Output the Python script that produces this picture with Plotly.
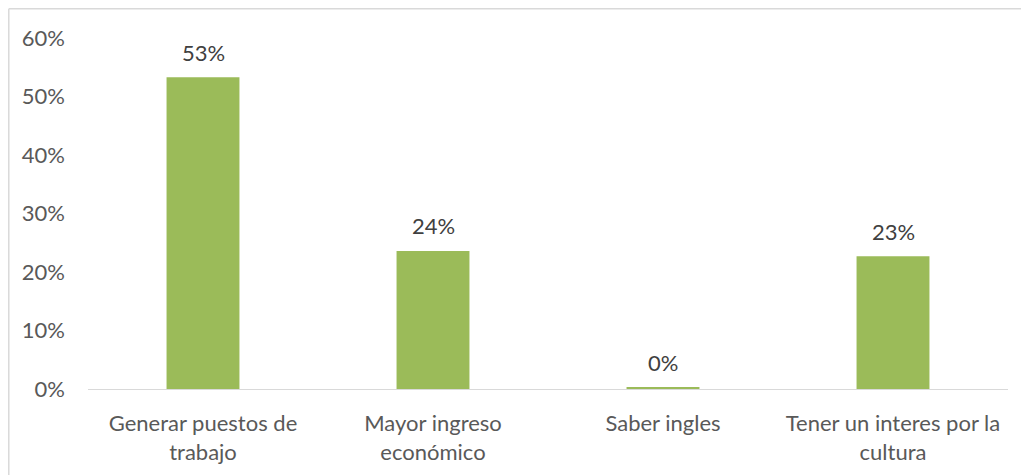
import plotly.graph_objects as go

categories = ["Generar puestos de<br>trabajo", "Mayor ingreso<br>económico", "Saber ingles", "Tener un interes por la<br>cultura"]
values = [0.533, 0.236, 0.003, 0.227]
labels = ["53%", "24%", "0%", "23%"]
tick_vals = [0, 0.1, 0.2, 0.3, 0.4, 0.5, 0.6]

fig = go.Figure(go.Bar(
    x=categories, y=values,
    marker=dict(color="#9bbb59", line=dict(width=0)),
    width=0.317,
))

for c, v, t in zip(categories, values, labels):
    fig.add_annotation(x=c, y=v, text=t, showarrow=False, yanchor="middle", yshift=25,
                       font=dict(size=22, color="#404040"))

fig.update_layout(
    width=1021, height=467,
    margin=dict(l=80, r=21, t=30, b=86),
    paper_bgcolor="white", plot_bgcolor="white",
    font=dict(family="Lato, Carlito, sans-serif", size=22, color="#595959"),
    showlegend=False,
    xaxis=dict(showline=True, linecolor="#d9d9d9", linewidth=1, ticks="", showgrid=False,
               automargin=False, ticklabelstandoff=15, tickfont=dict(size=22, color="#595959")),
    yaxis=dict(range=[0, 0.6], tickvals=tick_vals, tickformat=".0%", showgrid=False,
               zeroline=False, showline=False, ticks="", ticklabelstandoff=22, automargin=False,
               tickfont=dict(size=22, color="#595959")),
    shapes=[
        dict(type="line", xref="paper", yref="paper", x0=-0.0861, x1=1.1, y0=1.0833, y1=1.0833,
             line=dict(color="#d9d9d9", width=1.5)),
        dict(type="line", xref="paper", yref="paper", x0=-0.0861, x1=-0.0861, y0=-0.5, y1=1.0833,
             line=dict(color="#d9d9d9", width=1.5)),
    ],
)

fig.write_html("out.html")
